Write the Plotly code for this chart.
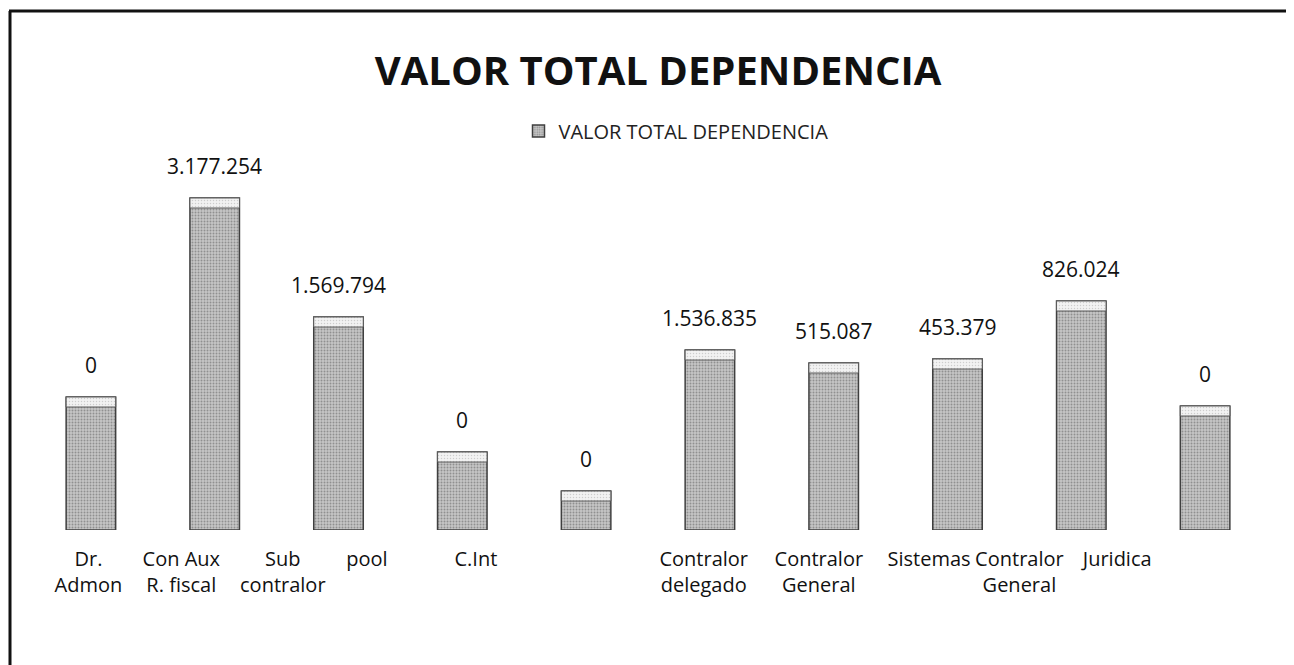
import plotly.graph_objects as go

# ---- data ----
categories = ["Dr. Admon", "Con Aux R. fiscal", "Sub contralor", "pool", "C.Int",
              "Contralor delegado", "Contralor General", "Sistemas",
              "Contralor General", "Juridica"]
tick_labels = ["Dr.<br>Admon", "Con Aux<br>R. fiscal", "Sub<br>contralor", "pool", "C.Int",
               "Contralor<br>delegado", "Contralor<br>General", "Sistemas",
               "Contralor<br>General", "Juridica"]
# bar heights as drawn in the picture (arbitrary drawing units, no value axis shown)
bar_heights = [133, 332, 213, 78, 39, 180, 167, 171, 229, 124]
# printed data labels
value_labels = ["0", "3.177.254", "1.569.794", "0", "0",
                "1.536.835", "515.087", "453.379", "826.024", "0"]
# where the category text sits, relative to each bar (in category units)
label_offsets = [-0.02, -0.27, -0.45, -0.77, -0.89, -0.05, -0.12, -0.23, -0.5, -0.71]

series_name = "VALOR TOTAL DEPENDENCIA"
title_text = "VALOR TOTAL DEPENDENCIA"

xs = list(range(len(categories)))
tick_pos = [i + o for i, o in zip(xs, label_offsets)]

FONT = "Open Sans"
OFF = 8  # page body margin offset

fig = go.Figure()
fig.add_trace(go.Bar(
    x=xs, y=bar_heights, name=series_name, hovertext=categories,
    marker=dict(color="#b8b8b8",
                line=dict(color="#3f3f3f", width=1.5),
                pattern=dict(shape=".", fgcolor="#5a5a5a", bgcolor="#c6c6c6",
                             size=3, solidity=0.35)),
    width=0.4,
))
# light bevel at the top of each bar
bevel = 10
fig.add_trace(go.Bar(
    x=xs, y=[bevel] * len(xs), base=[h - bevel for h in bar_heights],
    showlegend=False, hoverinfo="skip", width=0.4,
    marker=dict(color="#ececec", line=dict(color="#5a5a5a", width=1),
                pattern=dict(shape=".", fgcolor="#a8a8a8", bgcolor="#f2f2f2",
                             size=3, solidity=0.2)),
))

for x, h, t in zip(xs, bar_heights, value_labels):
    fig.add_annotation(x=x, y=h, text=t, showarrow=False, yanchor="bottom",
                       yshift=16, font=dict(family=FONT, size=21, color="#111"))

W, H = 1294, 665
L, T = 29 - OFF, 130 - OFF
pw, ph = 1238, 400
R, B = W - L - pw, H - T - ph


def px_x(px):  # image pixel -> paper x
    return (px - OFF - L) / pw


def px_y(py):  # image pixel -> paper y
    return (T + ph - (py - OFF)) / ph


fig.update_layout(
    width=W, height=H, barmode="overlay",
    margin=dict(l=L, r=R, t=T, b=B),
    paper_bgcolor="white", plot_bgcolor="white",
    title=dict(text="<b>" + title_text + "</b>", x=(658 - OFF) / W, xanchor="center",
               y=1 - (71 - OFF) / H, yanchor="middle", yref="container",
               font=dict(family=FONT, size=40, color="#111")),
    legend=dict(orientation="h", x=px_x(676), xanchor="center", y=px_y(131),
                yanchor="middle", font=dict(family=FONT, size=20, color="#222"),
                bgcolor="rgba(0,0,0,0)", itemwidth=30),
    xaxis=dict(range=[-0.5, len(xs) - 0.5], tickmode="array", tickvals=tick_pos,
               ticktext=tick_labels, showgrid=False, zeroline=False, showline=False,
               ticks="", ticklabelstandoff=15, tickangle=0,
               tickfont=dict(family=FONT, size=20, color="#111")),
    yaxis=dict(range=[0, ph], visible=False),
    showlegend=True,
    shapes=[
        dict(type="line", xref="paper", yref="paper", x0=px_x(10), x1=px_x(10),
             y0=px_y(11), y1=px_y(H + 20), line=dict(color="#111", width=3)),
        dict(type="line", xref="paper", yref="paper", x0=px_x(9), x1=px_x(W + 20),
             y0=px_y(11), y1=px_y(11), line=dict(color="#111", width=3)),
    ],
)

fig.write_html("out.html")
